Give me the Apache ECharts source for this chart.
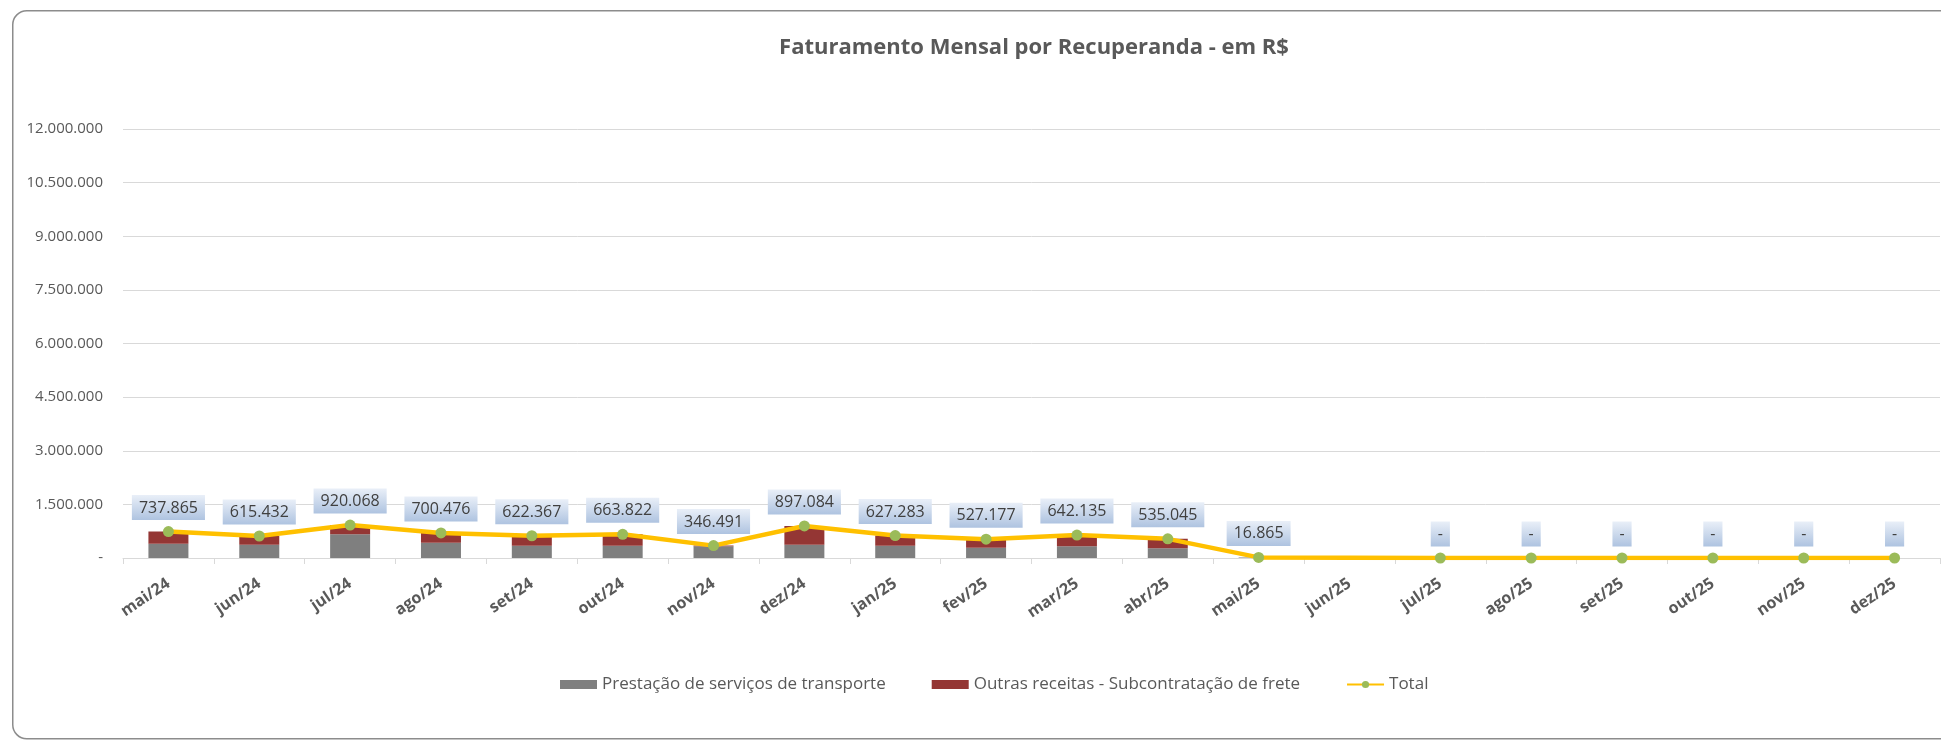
<!DOCTYPE html>
<html>
<head>
<meta charset="utf-8">
<script src="https://cdn.jsdelivr.net/npm/echarts@6/dist/echarts.min.js"></script>
<style>
  html, body { margin: 0; padding: 0; background: #fff; }
  #chart { width: 1941px; height: 742px; }
</style>
</head>
<body>
<div id="chart"></div>
<script>
var meses = ['mai/24', 'jun/24', 'jul/24', 'ago/24', 'set/24', 'out/24', 'nov/24', 'dez/24',
    'jan/25', 'fev/25', 'mar/25', 'abr/25', 'mai/25', 'jun/25', 'jul/25', 'ago/25',
    'set/25', 'out/25', 'nov/25', 'dez/25'];

// valores (R$)
var prestacao = [402000, 374000, 662000, 430000, 346000, 346000, 330000, 374000,
    346000, 290000, 327000, 271000, 16865, 0, 0, 0, 0, 0, 0, 0];
var outras = [335865, 241432, 258068, 270476, 276367, 317822, 16491, 523084,
    281283, 237177, 315135, 264045, 0, 0, 0, 0, 0, 0, 0, 0];
var total = [737865, 615432, 920068, 700476, 622367, 663822, 346491, 897084,
    627283, 527177, 642135, 535045, 16865, null, 0, 0, 0, 0, 0, 0];

var fonte = '"Open Sans", "Liberation Sans", sans-serif';
var cinzaTexto = '#595959';

function formatBR(v) {
    if (!v) return '-';
    return String(Math.round(v)).replace(/\B(?=(\d{3})+(?!\d))/g, '.');
}

var chart = echarts.init(document.getElementById('chart'));

var option = {
    animation: false,
    textStyle: {fontFamily: fonte},
    title: {
        text: 'Faturamento Mensal por Recuperanda - em R$',
        left: 1029, top: 32, textAlign: 'center',
        textStyle: {fontFamily: fonte, fontSize: 22, fontWeight: 'bold', color: cinzaTexto}
    },
    graphic: [{
        type: 'rect', left: 12, top: 10, silent: true, z: -1,
        shape: {width: 1960, height: 728, r: 14},
        style: {fill: '#fff', stroke: '#8c8c8c', lineWidth: 1.5}
    }],
    legend: {
        left: 555, top: 671,
        itemWidth: 37, itemHeight: 9, itemGap: 46,
        textStyle: {fontFamily: fonte, fontSize: 17, color: cinzaTexto},
        data: [
            {name: 'Prestação de serviços de transporte', icon: 'rect'},
            {name: 'Outras receitas - Subcontratação de frete', icon: 'rect'},
            {name: 'Total'}
        ]
    },
    grid: {left: 123, top: 129, width: 1817, height: 429, containLabel: false},
    xAxis: {
        type: 'category',
        data: meses,
        axisLine: {lineStyle: {color: '#d9d9d9', width: 1}},
        axisTick: {show: true, length: 6, lineStyle: {color: '#d9d9d9'}},
        axisLabel: {rotate: 34, margin: 24, fontSize: 16, fontWeight: 'bold', color: cinzaTexto, fontFamily: fonte}
    },
    yAxis: {
        type: 'value',
        min: 0, max: 12000000, interval: 1500000,
        axisLine: {show: false},
        axisTick: {show: false},
        splitLine: {lineStyle: {color: '#d9d9d9', width: 1}},
        axisLabel: {margin: 20, fontSize: 15, color: cinzaTexto, fontFamily: fonte, formatter: formatBR}
    },
    series: [
        {
            name: 'Prestação de serviços de transporte', type: 'bar', stack: 'fat',
            barWidth: 40, data: prestacao,
            itemStyle: {color: '#7f7f7f'}
        },
        {
            name: 'Outras receitas - Subcontratação de frete', type: 'bar', stack: 'fat',
            barWidth: 40, data: outras,
            itemStyle: {color: '#943634'}
        },
        {
            name: 'Total', type: 'line', data: total, connectNulls: true,
            symbol: 'circle', symbolSize: 11, z: 5,
            lineStyle: {color: '#ffc000', width: 4.5},
            itemStyle: {color: '#9bbb59', borderWidth: 0},
            label: {
                show: true, position: 'top', distance: 6,
                fontFamily: fonte, fontSize: 16, color: '#404040',
                padding: [5, 7, 4, 7],
                backgroundColor: new echarts.graphic.LinearGradient(0, 0, 0, 1, [
                    {offset: 0, color: '#e9eff8'},
                    {offset: 1, color: '#aec3e0'}
                ]),
                formatter: function (p) { return formatBR(p.value); }
            }
        }
    ]
};

chart.setOption(option);
</script>
</body>
</html>
